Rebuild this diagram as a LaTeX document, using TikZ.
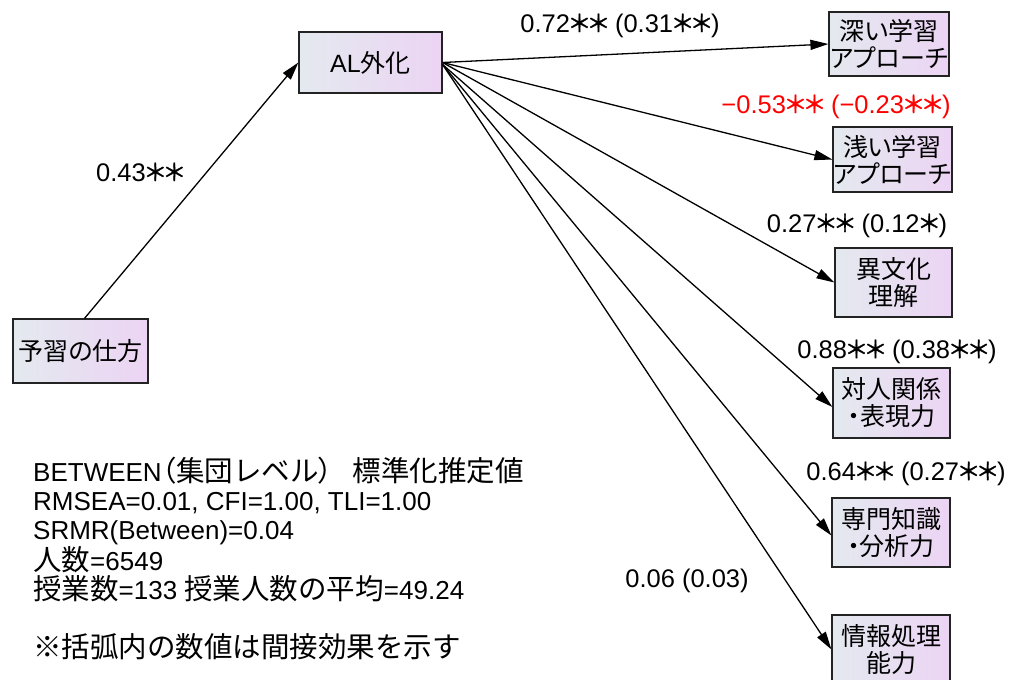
\documentclass[tikz,border=0pt]{standalone}
\usepackage{fontspec}
\setmainfont{Liberation Sans}
\newfontfamily\cjk{Noto Sans CJK JP}[RawFeature=+palt]
\newfontfamily\cjkw{Noto Sans CJK JP}
\newfontfamily\cjkb{Noto Sans CJK JP}[FakeBold=1.4]
\usetikzlibrary{arrows.meta}
\definecolor{boxL}{RGB}{228,233,239}
\definecolor{boxR}{RGB}{236,212,244}
\definecolor{edgeC}{RGB}{35,35,35}
\newcommand{\lat}[1]{{\rmfamily #1}}
\newcommand{\J}[1]{{\cjkw\fontsize{28.5}{29}\selectfont #1}}
\newcommand{\JP}[1]{{\cjk\fontsize{28.5}{29}\selectfont #1}}
\newcommand{\st}{\makebox[19pt][c]{\cjkb\fontsize{24}{24}\selectfont ＊}}
\tikzset{
  box/.style={draw=edgeC, line width=1.2pt, left color=boxL, right color=boxR,
    inner sep=0pt, align=center, font=\cjk\fontsize{25}{27}\selectfont},
  conn/.style={-{Triangle[length=18pt,width=10pt]}, line width=1.3pt, draw=black},
  lbl/.style={font=\fontsize{25.5}{28}\selectfont, inner sep=0pt, anchor=base},
  note/.style={font=\fontsize{26}{29}\selectfont, inner sep=0pt, align=left, anchor=base west}
}
\begin{document}
\begin{tikzpicture}[x=1pt,y=-1pt]
\useasboundingbox (0,0) rectangle (1012,680);
% nodes
\node[box, minimum width=143pt, minimum height=61pt] (al) at (370.5,62.5) {\lat{AL}外化};
\node[box, minimum width=135pt, minimum height=64pt] (yoshu) at (80.5,351) {予習の仕方};
\node[box, minimum width=120pt, minimum height=64pt] (fukai) at (889,44) {深い学習\\アプローチ};
\node[box, minimum width=119pt, minimum height=65pt] (asai) at (892.5,159.5) {浅い学習\\アプローチ};
\node[box, minimum width=117pt, minimum height=69pt] (ibunka) at (893.5,282.5) {異文化\\理解};
\node[box, minimum width=117pt, minimum height=70pt] (taijin) at (891.5,403) {対人関係\\・表現力};
\node[box, minimum width=118pt, minimum height=69pt] (senmon) at (891,532.5) {専門知識\\・分析力};
\node[box, minimum width=118pt, minimum height=69pt] (joho) at (891,649.5) {情報処理\\能力};
% connectors
\draw[conn] ([xshift=4pt]yoshu.north) -- (al.west);
\draw[conn] (al.east) -- (fukai.west);
\draw[conn] (al.east) -- (asai.west);
\draw[conn] (al.east) -- (ibunka.west);
\draw[conn] ([yshift=-2pt]al.east) -- ([yshift=-4pt]taijin.west);
\draw[conn] ([yshift=-2pt]al.east) -- ([yshift=-3pt]senmon.west);
\draw[conn] ([yshift=-2pt]al.east) -- (joho.west);
% labels
\node[lbl] (l0) at (140,181) {0.43\st\st};
\node[lbl] (l1) at (620,32) {0.72\st\st{} (0.31\st\st)};
\node[lbl, text=red] (l2) at (836,113) {−0.53\st\st{} (−0.23\st\st)};
\node[lbl] (l3) at (857,232) {0.27\st\st{} (0.12\st)};
\node[lbl] (l4) at (897,358) {0.88\st\st{} (0.38\st\st)};
\node[lbl] (l5) at (906,480) {0.64\st\st{} (0.27\st\st)};
\node[lbl] (l6) at (687,587) {0.06 (0.03)};
% note
\node[note] (info) at (33,657) {BETWEEN\JP{（}\J{集団レベル}\JP{）}\hspace{20pt}\J{標準化推定値}\\
RMSEA=0.01, CFI=1.00, TLI=1.00\\
SRMR(Between)=0.04\\
\J{人数}=6549\\
\J{授業数}=133 \J{授業人数の平均}=49.24\\[29pt]
\J{※括弧内の数値は間接効果を示す}};
\end{tikzpicture}
\end{document}
